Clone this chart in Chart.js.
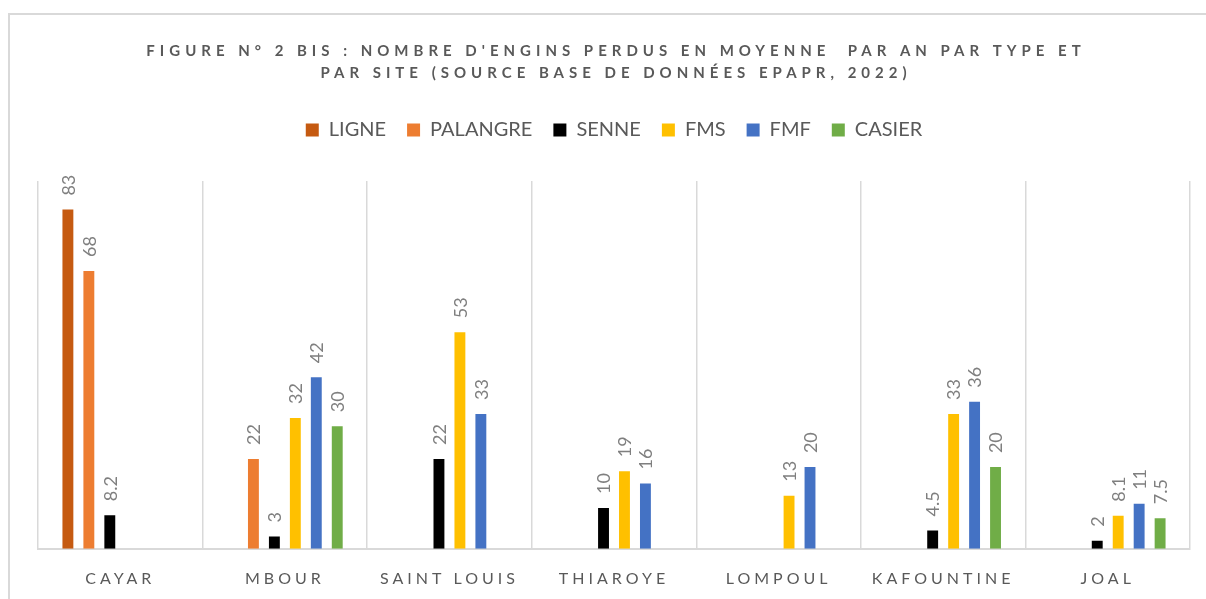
<!DOCTYPE html>
<html>
<head>
<meta charset="utf-8">
<script src="https://cdn.jsdelivr.net/npm/chart.js@4.4.1/dist/chart.umd.min.js"></script>
<style>
  html, body { margin: 0; padding: 0; background: #fff; overflow: hidden; }
  #frame { position: absolute; left: 8px; top: 13px; width: 1300px; height: 700px; border: 2px solid #d9d9d9; box-sizing: border-box; }
  #wrap { position: absolute; left: 0; top: 0; width: 1206px; height: 599px; }
</style>
</head>
<body>
<div id="frame"></div>
<div id="wrap"><canvas id="chart"></canvas></div>
<script>
const sites = ['CAYAR', 'MBOUR', 'SAINT LOUIS', 'THIAROYE', 'LOMPOUL', 'KAFOUNTINE', 'JOAL'];
const ligne    = [83, null, null, null, null, null, null];
const palangre = [68, 22, null, null, null, null, null];
const senne    = [8.2, 3, 22, 10, null, 4.5, 2];
const fms      = [null, 32, 53, 19, 13, 33, 8.1];
const fmf      = [null, 42, 33, 16, 20, 36, 11];
const casier   = [null, 30, null, null, null, 20, 7.5];
const titleLines = [
  "FIGURE N° 2 BIS : NOMBRE D'ENGINS PERDUS EN MOYENNE  PAR AN PAR TYPE ET",
  "PAR SITE (SOURCE BASE DE DONNÉES EPAPR, 2022)"
];

Chart.defaults.font.family = 'Lato';
Chart.defaults.color = '#595959';

// value labels (rotated), spaced tick labels and the spaced title
const extras = {
  id: 'extras',
  beforeInit(chart) {
    const fit = chart.legend.fit;
    chart.legend.fit = function () {
      fit.call(this);
      this.height += 31;
    };
  },
  beforeDraw(chart) {
    chart.ctx.letterSpacing = '0px';
  },
  afterDatasetsDraw(chart) {
    const ctx = chart.ctx;
    ctx.save();
    ctx.font = '18px Lato';
    ctx.fillStyle = '#7f7f7f';
    ctx.textAlign = 'left';
    ctx.textBaseline = 'middle';
    chart.data.datasets.forEach((ds, i) => {
      chart.getDatasetMeta(i).data.forEach((bar, j) => {
        const v = ds.data[j];
        if (v == null) return;
        ctx.save();
        ctx.translate(bar.x + 1, bar.y - 14);
        ctx.rotate(-Math.PI / 2);
        ctx.fillText(String(v), 0, 0);
        ctx.restore();
      });
    });
    ctx.restore();
    // x tick labels are drawn right after this (ticks.z = 1)
    ctx.letterSpacing = '4px';
  },
  afterDraw(chart) {
    const ctx = chart.ctx;
    ctx.save();
    ctx.letterSpacing = '5px';
    ctx.font = 'bold 15px Lato';
    ctx.fillStyle = '#595959';
    ctx.textAlign = 'center';
    ctx.textBaseline = 'middle';
    ctx.fillText(titleLines[0], 616, 51);
    ctx.fillText(titleLines[1], 616, 73);
    ctx.restore();
    ctx.letterSpacing = '0px';
  }
};

new Chart(document.getElementById('chart'), {
  type: 'bar',
  data: {
    labels: sites,
    datasets: [
      { label: 'LIGNE', data: ligne, backgroundColor: '#C55A11' },
      { label: 'PALANGRE', data: palangre, backgroundColor: '#ED7D31' },
      { label: 'SENNE', data: senne, backgroundColor: '#000000' },
      { label: 'FMS', data: fms, backgroundColor: '#FFC000' },
      { label: 'FMF', data: fmf, backgroundColor: '#4472C4' },
      { label: 'CASIER', data: casier, backgroundColor: '#70AD47' }
    ]
  },
  options: {
    responsive: true,
    maintainAspectRatio: false,
    animation: false,
    categoryPercentage: 0.764,
    barPercentage: 0.52,
    layout: { padding: { top: 99, left: 38, right: 16, bottom: -9 } },
    plugins: {
      title: { display: false },
      tooltip: { enabled: false },
      legend: {
        position: 'top',
        labels: {
          boxWidth: 13,
          boxHeight: 13,
          padding: 21,
          color: '#595959',
          font: { size: 20 }
        }
      }
    },
    scales: {
      x: {
        grid: { offset: true, color: '#d9d9d9', lineWidth: 1.5, drawTicks: false },
        border: { color: '#d9d9d9', width: 2 },
        ticks: { z: 1, padding: 20, color: '#595959', font: { size: 16 }, maxRotation: 0, autoSkip: false }
      },
      y: {
        display: false,
        min: 0,
        max: 90
      }
    }
  },
  plugins: [extras]
});
</script>
</body>
</html>
